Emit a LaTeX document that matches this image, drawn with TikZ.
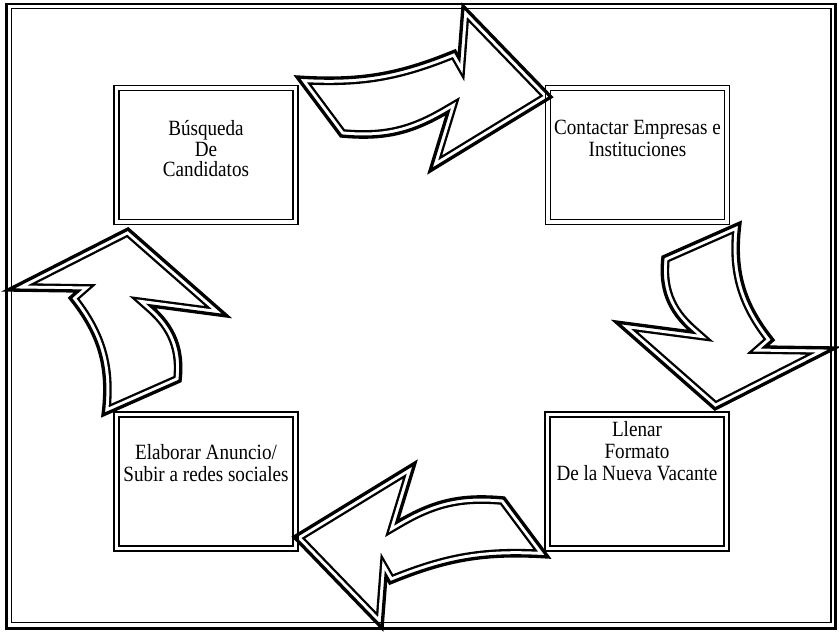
\documentclass[tikz,border=0pt]{standalone}
\usepackage{fontspec}
\setmainfont{Liberation Serif}[FakeStretch=0.88]
\usetikzlibrary{positioning}

\newcommand\bigarrow[1]{%
  \begin{scope}
    \clip #1;
    \fill[white] #1;
    \draw[line width=10.5pt] #1;
    \draw[white, line width=7pt] #1;
  \end{scope}
  \draw[line width=2.5pt] #1;
}
\newcommand\pathtop{(297,77) to[bend right=13] (455,51) -- (459,58) -- (463,6) -- (551,97) -- (430,171) -- (448,112) to[bend left=18] (341,136) -- cycle}
\newcommand\pathside{(692,332) to[bend left=28] (663,257) -- (740,223) to[bend right=23] (773,340) -- (765,347) -- (835,348) -- (715,409) -- (616,322) -- cycle}

\begin{document}
\begin{tikzpicture}[
  x=0.75pt, y=-0.75pt,
  box/.style={draw, line width=1.4pt, minimum width=138pt, minimum height=104.25pt, inner sep=0pt, outer sep=0pt},
  boxtext/.style={align=center, inner sep=0pt, font=\fontsize{16.3}{16.5}\selectfont}
]
  \useasboundingbox (0,0) rectangle (839,634);

  \bigarrow{\pathtop}
  \begin{scope}[rotate around={180:(422.5,317)}]
    \bigarrow{\pathtop}
  \end{scope}
  \bigarrow{\pathside}
  \begin{scope}[rotate around={180:(421.5,319)}]
    \bigarrow{\pathside}
  \end{scope}

  \draw[line width=1.9pt] (6.5,4) rectangle (835.5,628.5);
  \draw[line width=1pt] (11.5,8.5) rectangle (831,622.5);

  \node[box] (busqueda) at (206,155) {};
  \node[box] (contactar) at (637.5,155) {};
  \node[box] (llenar) at (637,481.5) {};
  \node[box] (anuncio) at (206,481.5) {};
  \foreach \b in {busqueda,contactar,llenar,anuncio}
    \draw[line width=0.9pt] ([shift={(5,5)}]\b.north west) rectangle ([shift={(-5,-5)}]\b.south east);

  \node[boxtext, below=68.4pt of busqueda.north, anchor=base, font=\fontsize{16.3}{15.5}\selectfont] (busquedatxt) {Búsqueda\\De\\Candidatos};
  \node[boxtext, below=53.4pt of contactar.north, anchor=base] (contactartxt) {Contactar Empresas e\\Instituciones};
  \node[boxtext, below=51.5pt of llenar.north, anchor=base] (llenartxt) {Llenar\\Formato\\De la Nueva Vacante};
  \node[boxtext, below=52.3pt of anuncio.north, anchor=base] (anunciotxt) {Elaborar Anuncio/\\Subir a redes sociales};
\end{tikzpicture}
\end{document}
